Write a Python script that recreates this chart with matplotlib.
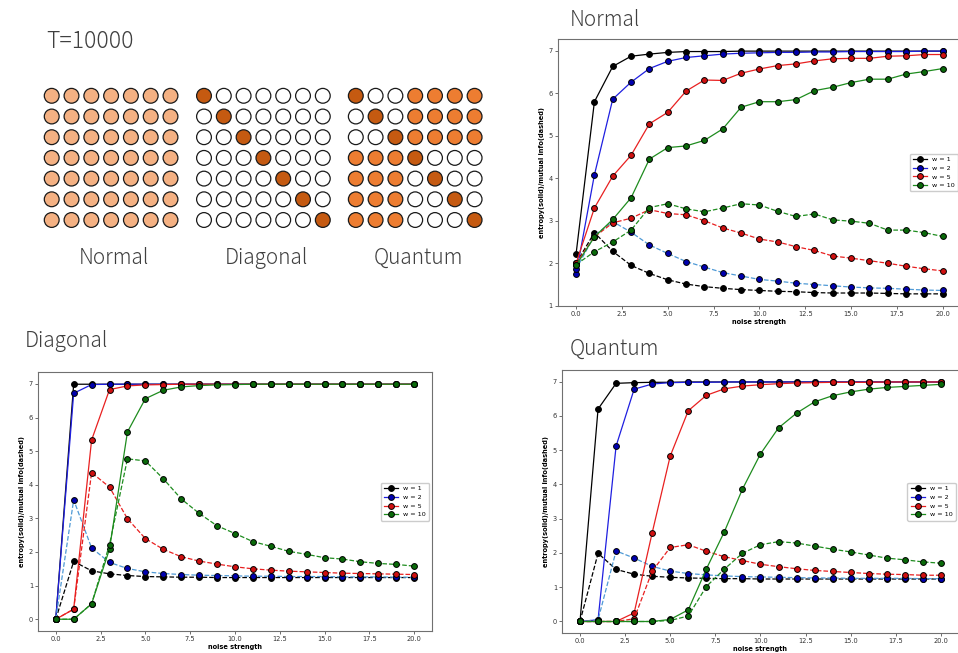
import matplotlib
matplotlib.use("Agg")
import matplotlib.pyplot as plt
from matplotlib.patches import Circle

plt.rcParams['font.family'] = ['DejaVu Sans']
JP = ['Noto Sans CJK JP', 'DejaVu Sans']

# ---- data ----
noise = list(range(21))
widths = ["w = 1", "w = 2", "w = 5", "w = 10"]

# Normal
normal_ent_w1 = [2.22, 5.80, 6.63, 6.87, 6.92, 6.96, 6.98, 6.98, 6.98, 6.99, 6.99, 6.99, 6.99, 6.99, 6.99, 6.99, 6.99, 6.99, 6.99, 6.99, 6.99]
normal_ent_w2 = [1.74, 4.08, 5.86, 6.26, 6.58, 6.75, 6.84, 6.88, 6.92, 6.94, 6.95, 6.96, 6.96, 6.97, 6.97, 6.98, 6.98, 6.98, 6.98, 6.99, 6.99]
normal_ent_w5 = [2.00, 3.30, 4.05, 4.54, 5.28, 5.55, 6.05, 6.31, 6.30, 6.47, 6.57, 6.65, 6.69, 6.76, 6.81, 6.82, 6.82, 6.87, 6.88, 6.91, 6.91]
normal_ent_w10 = [1.95, 2.62, 3.03, 3.54, 4.45, 4.72, 4.76, 4.89, 5.16, 5.67, 5.80, 5.80, 5.85, 6.06, 6.14, 6.25, 6.33, 6.33, 6.45, 6.51, 6.58]
normal_mi_w1 = [2.00, 2.72, 2.28, 1.95, 1.76, 1.61, 1.51, 1.45, 1.41, 1.38, 1.36, 1.34, 1.33, 1.31, 1.30, 1.30, 1.30, 1.29, 1.28, 1.28, 1.28]
normal_mi_w2 = [1.86, 2.65, 2.98, 2.73, 2.43, 2.23, 2.04, 1.91, 1.78, 1.70, 1.62, 1.58, 1.53, 1.50, 1.47, 1.44, 1.42, 1.41, 1.39, 1.37, 1.36]
normal_mi_w5 = [2.00, 2.62, 2.95, 3.06, 3.26, 3.17, 3.14, 3.00, 2.83, 2.71, 2.57, 2.50, 2.39, 2.30, 2.17, 2.12, 2.06, 2.00, 1.93, 1.87, 1.82]
normal_mi_w10 = [1.97, 2.27, 2.50, 2.78, 3.31, 3.40, 3.28, 3.21, 3.30, 3.40, 3.37, 3.22, 3.10, 3.16, 3.02, 2.99, 2.94, 2.78, 2.78, 2.72, 2.63]

# Diagonal
diag_ent_w1 = [0.00, 6.99, 6.99, 6.99, 6.99, 6.99, 6.99, 6.99, 6.99, 6.99, 6.99, 6.99, 6.99, 6.99, 6.99, 6.99, 6.99, 6.99, 6.99, 6.99, 6.99]
diag_ent_w2 = [0.00, 6.72, 6.98, 6.99, 6.99, 6.99, 6.99, 6.99, 6.99, 6.99, 6.99, 6.99, 6.99, 6.99, 6.99, 6.99, 6.99, 6.99, 6.99, 6.99, 6.99]
diag_ent_w5 = [0.00, 0.30, 5.33, 6.83, 6.94, 6.97, 6.98, 6.99, 6.99, 6.99, 6.99, 6.99, 6.99, 6.99, 6.99, 6.99, 6.99, 6.99, 6.99, 6.99, 6.99]
diag_ent_w10 = [0.00, 0.00, 0.46, 2.09, 5.57, 6.56, 6.81, 6.91, 6.95, 6.97, 6.98, 6.99, 6.99, 6.99, 6.99, 6.99, 6.99, 6.99, 6.99, 6.99, 6.99]
diag_mi_w1 = [0.00, 1.72, 1.44, 1.35, 1.30, 1.27, 1.26, 1.25, 1.25, 1.24, 1.24, 1.24, 1.24, 1.24, 1.24, 1.24, 1.24, 1.24, 1.24, 1.24, 1.24]
diag_mi_w2 = [0.00, 3.55, 2.12, 1.69, 1.51, 1.41, 1.36, 1.33, 1.31, 1.30, 1.29, 1.28, 1.28, 1.27, 1.27, 1.27, 1.26, 1.26, 1.26, 1.25, 1.25]
diag_mi_w5 = [0.00, 0.30, 4.36, 3.93, 2.99, 2.40, 2.08, 1.86, 1.73, 1.64, 1.56, 1.50, 1.46, 1.43, 1.41, 1.39, 1.37, 1.36, 1.35, 1.34, 1.33]
diag_mi_w10 = [0.00, 0.00, 0.46, 2.22, 4.77, 4.71, 4.18, 3.58, 3.15, 2.78, 2.55, 2.31, 2.17, 2.02, 1.93, 1.83, 1.79, 1.71, 1.66, 1.63, 1.58]

# Quantum
quant_ent_w1 = [0.00, 6.20, 6.95, 6.97, 6.98, 6.98, 6.99, 6.99, 6.99, 6.99, 6.99, 6.99, 6.99, 6.99, 6.99, 6.99, 6.99, 6.99, 6.99, 6.99, 6.99]
quant_ent_w2 = [0.00, 0.05, 5.12, 6.78, 6.93, 6.97, 6.98, 6.98, 6.99, 6.99, 6.99, 6.99, 6.99, 6.99, 6.99, 6.99, 6.99, 6.99, 6.99, 6.99, 6.99]
quant_ent_w5 = [0.00, 0.00, 0.00, 0.25, 2.59, 4.83, 6.15, 6.60, 6.79, 6.87, 6.91, 6.94, 6.96, 6.97, 6.98, 6.98, 6.98, 6.99, 6.99, 6.99, 6.99]
quant_ent_w10 = [0.00, 0.00, 0.00, 0.00, 0.00, 0.06, 0.34, 1.53, 2.62, 3.86, 4.89, 5.65, 6.08, 6.41, 6.59, 6.70, 6.78, 6.83, 6.86, 6.89, 6.92]
quant_mi_w1 = [0.00, 1.99, 1.52, 1.38, 1.32, 1.29, 1.27, 1.26, 1.25, 1.25, 1.24, 1.24, 1.24, 1.24, 1.24, 1.24, 1.24, 1.24, 1.24, 1.24, 1.24]
quant_mi_w2 = [0.00, 0.05, 2.06, 1.85, 1.61, 1.47, 1.40, 1.36, 1.33, 1.31, 1.30, 1.29, 1.28, 1.27, 1.27, 1.26, 1.26, 1.26, 1.26, 1.25, 1.25]
quant_mi_w5 = [0.00, 0.00, 0.00, 0.08, 1.47, 2.16, 2.24, 2.05, 1.89, 1.78, 1.67, 1.60, 1.54, 1.49, 1.46, 1.43, 1.40, 1.38, 1.37, 1.35, 1.35]
quant_mi_w10 = [0.00, 0.00, 0.00, 0.00, 0.00, 0.03, 0.16, 1.02, 1.53, 1.99, 2.24, 2.33, 2.29, 2.20, 2.11, 2.03, 1.94, 1.85, 1.80, 1.74, 1.70]

# 7x7 weight patterns: L light, O orange, D dark, W empty
normal_grid = ["LLLLLLL"] * 7
diag_grid = ["DWWWWWW", "WDWWWWW", "WWDWWWW", "WWWDWWW", "WWWWDWW", "WWWWWDW", "WWWWWWD"]
quant_grid = ["DWWOOOO", "WDWOOOO", "WWDOOOO", "OOODWWW", "OOOWDWW", "OOOWWDW", "OOOWWWD"]
grid_names = ["Normal", "Diagonal", "Quantum"]

cell_colors = {"L": "#F4B183", "O": "#ED7D31", "D": "#C55A11", "W": "white"}
line_colors = ["black", "#1f1fe0", "#e82020", "#1e8c1e"]
dash_colors = ["black", "#4f9ad6", "#e82020", "#1e8c1e"]
face_colors = ["black", "#0000b0", "#d01010", "#0a6a0a"]
text_color = "#404040"

fig = plt.figure(figsize=(9.58, 6.53), dpi=100)

# pixel-space layer for the weight patterns and headings
bg = fig.add_axes([0, 0, 1, 1])
bg.set_xlim(0, 958)
bg.set_ylim(653, 0)
bg.axis("off")

head = dict(color=text_color, family=JP, fontweight="light", va="center")
bg.text(46, 41, "T=10000", fontsize=16.5, ha="left", **head)
grid_x0 = [51.7, 204.0, 355.8]
for g, (grid, name) in enumerate(zip([normal_grid, diag_grid, quant_grid], grid_names)):
    for r, row in enumerate(grid):
        for c, key in enumerate(row):
            bg.add_patch(Circle((grid_x0[g] + 19.8 * c, 95.8 + 20.7 * r), 7.4,
                                facecolor=cell_colors[key], edgecolor="#1a1a1a", lw=0.9))
    bg.text(grid_x0[g] + 19.8 * 3 + 3, 258, name, fontsize=15, ha="center", **head)

bg.text(570, 20, "Normal", fontsize=15, **head)
bg.text(25, 341, "Diagonal", fontsize=15, **head)
bg.text(570, 349, "Quantum", fontsize=15, **head)


def draw_panel(ax, ent, mi):
    for i in range(4):
        ax.plot(noise, ent[i], "-", color=line_colors[i], lw=0.9, marker="o", ms=4.2,
                mfc=face_colors[i], mec="black", mew=0.7, label=widths[i])
        ax.plot(noise, mi[i], "--", color=dash_colors[i], lw=0.9, marker="o", ms=4.2,
                mfc=face_colors[i], mec="black", mew=0.7)
    ax.set_xlabel("noise strength", fontsize=4.8, fontweight="bold", labelpad=1.5)
    ax.set_ylabel("entropy(solid)/mutual info(dashed)", fontsize=4.8, fontweight="bold", labelpad=2.5)
    ax.tick_params(labelsize=4.8, length=2, width=0.5, pad=1.5, colors="#333333")
    for s in ax.spines.values():
        s.set_color("#707070")
        s.set_linewidth(0.8)
    ax.legend(loc="center right", fontsize=4.6, handlelength=2.2, borderpad=0.5,
              labelspacing=0.5, frameon=True, framealpha=1, edgecolor="#cccccc")


ax1 = fig.add_axes([0.5822, 0.5314, 0.421, 0.4089])
draw_panel(ax1, [normal_ent_w1, normal_ent_w2, normal_ent_w5, normal_ent_w10],
           [normal_mi_w1, normal_mi_w2, normal_mi_w5, normal_mi_w10])

ax2 = fig.add_axes([0.0395, 0.0337, 0.4115, 0.3959])
draw_panel(ax2, [diag_ent_w1, diag_ent_w2, diag_ent_w5, diag_ent_w10],
           [diag_mi_w1, diag_mi_w2, diag_mi_w5, diag_mi_w10])

ax3 = fig.add_axes([0.5866, 0.0299, 0.4144, 0.4035])
draw_panel(ax3, [quant_ent_w1, quant_ent_w2, quant_ent_w5, quant_ent_w10],
           [quant_mi_w1, quant_mi_w2, quant_mi_w5, quant_mi_w10])

fig.savefig("out.png", dpi=100)
